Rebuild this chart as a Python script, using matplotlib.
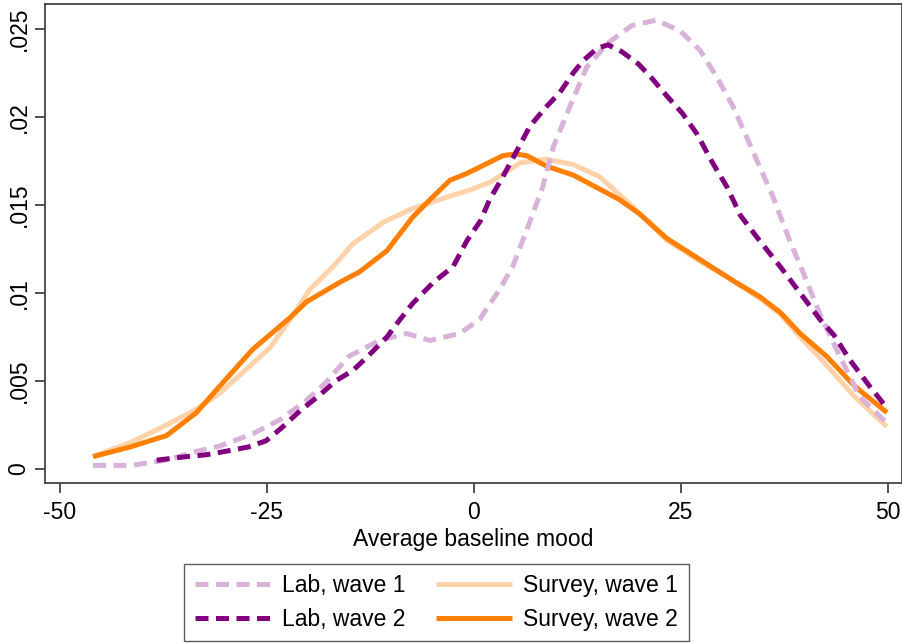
import matplotlib
matplotlib.use("Agg")
import matplotlib.pyplot as plt
from matplotlib.ticker import FuncFormatter

plt.rcParams['font.family'] = ['Liberation Sans', 'DejaVu Sans']
plt.rcParams['axes.unicode_minus'] = False

# Lab, wave 1
lab1_x = [-46.0, -41.5, -37.1, -33.5, -30.7, -26.7, -23.4, -20.2, -17.9, -15.1,
          -11.4, -8.1, -5.3, -1.7, 0.7, 3.1, 4.7, 6.4, 8.3, 9.6,
          11.6, 13.6, 16.2, 19.1, 22.0, 24.9, 27.3, 29.3, 31.3, 32.9,
          34.5, 36.1, 38.2, 39.4, 41.8, 44.2, 46.6, 49.9]
lab1_y = [0.0002, 0.0002, 0.0005, 0.0010, 0.0013, 0.0020, 0.0028, 0.0039, 0.0049, 0.0064,
          0.0073, 0.0077, 0.0073, 0.0077, 0.0085, 0.0102, 0.0115, 0.0136, 0.0160, 0.0183,
          0.0206, 0.0228, 0.0242, 0.0252, 0.0255, 0.0249, 0.0238, 0.0223, 0.0206, 0.0189,
          0.0172, 0.0155, 0.0129, 0.0116, 0.0088, 0.0064, 0.0041, 0.0026]

# Lab, wave 2
lab2_x = [-38.3, -34.7, -32.4, -30.0, -27.2, -25.1, -23.3, -21.0, -18.6, -16.7,
          -14.6, -12.8, -10.5, -8.9, -7.4, -4.9, -2.5, -0.8, 0.8, 1.9,
          3.5, 5.1, 6.8, 8.8, 10.4, 12.0, 13.2, 14.9, 16.2, 17.9,
          19.9, 21.5, 23.3, 25.2, 27.0, 28.7, 30.6, 32.2, 34.3, 37.0,
          39.4, 41.8, 43.5, 45.4, 47.8, 50.0]
lab2_y = [0.0005, 0.0007, 0.0008, 0.0010, 0.00125, 0.0016, 0.0023, 0.0033, 0.0042, 0.0050,
          0.0056, 0.0064, 0.0075, 0.0085, 0.0094, 0.0106, 0.0115, 0.0130, 0.0141, 0.0153,
          0.0166, 0.0180, 0.0195, 0.0206, 0.0214, 0.0225, 0.0232, 0.0239, 0.0241, 0.0237,
          0.0230, 0.0222, 0.0212, 0.0202, 0.0190, 0.0175, 0.0160, 0.0144, 0.0131, 0.0115,
          0.0100, 0.0085, 0.0076, 0.0062, 0.0047, 0.0034]

# Survey, wave 1
sur1_x = [-46.0, -41.5, -37.1, -33.5, -30.7, -26.7, -24.6, -22.2, -19.8, -17.0,
          -14.6, -11.0, -7.4, -2.9, -0.8, 2.0, 5.6, 8.8, 12.0, 15.2,
          19.2, 23.3, 27.3, 31.3, 34.5, 37.0, 39.4, 42.6, 46.0, 49.9]
sur1_y = [0.0007, 0.0015, 0.0025, 0.0034, 0.0043, 0.0060, 0.0069, 0.0085, 0.0102, 0.0115,
          0.0128, 0.0140, 0.0148, 0.0155, 0.0158, 0.0163, 0.0174, 0.0176, 0.0173, 0.0166,
          0.0149, 0.0130, 0.0118, 0.0107, 0.0097, 0.0088, 0.0075, 0.0059, 0.0041, 0.0024]

# Survey, wave 2
sur2_x = [-46.0, -41.5, -37.1, -33.5, -30.7, -26.7, -22.2, -20.2, -16.2, -13.8,
          -10.5, -7.4, -5.3, -2.9, -0.8, 3.5, 5.0, 6.4, 8.8, 12.0,
          15.2, 17.6, 20.0, 23.3, 27.3, 31.3, 34.5, 37.0, 39.4, 42.6,
          46.0, 49.9]
sur2_y = [0.0007, 0.00125, 0.0019, 0.0032, 0.0047, 0.0068, 0.0086, 0.0095, 0.0106, 0.0112,
          0.0124, 0.0143, 0.0153, 0.0164, 0.0168, 0.0178, 0.0179, 0.0178, 0.0172, 0.0167,
          0.0159, 0.0153, 0.0145, 0.0131, 0.0119, 0.0107, 0.0098, 0.0089, 0.0077, 0.0064,
          0.0047, 0.0032]

x_ticks = [-50, -25, 0, 25, 50]
y_ticks = [0, 0.005, 0.01, 0.015, 0.02, 0.025]

fig = plt.figure(figsize=(9.03, 6.43), dpi=100)
ax = fig.add_axes([0.0498, 0.2488, 0.949, 0.745])

lw = 3.6
dash = (2.6, 1.5)
ax.plot(sur1_x, sur1_y, color='#ffd2aa', lw=lw, label='Survey, wave 1', solid_capstyle='butt')
ax.plot(sur2_x, sur2_y, color='#ff7f00', lw=lw, label='Survey, wave 2', solid_capstyle='butt')
ax.plot(lab1_x, lab1_y, color='#d8b2d8', lw=lw, dashes=dash, label='Lab, wave 1')
ax.plot(lab2_x, lab2_y, color='#800080', lw=lw, dashes=dash, label='Lab, wave 2')

ax.set_xlim(-51.8, 51.7)
ax.set_ylim(-0.0008, 0.02642)
ax.set_xticks(x_ticks)
ax.set_yticks(y_ticks)
ax.yaxis.set_major_formatter(FuncFormatter(lambda v, p: '0' if v == 0 else ('%g' % v).lstrip('0')))
ax.tick_params(direction='out', length=7, width=1.2, labelsize=16.5, color='#333333')
ax.tick_params(axis='x', pad=6)
for lab in ax.get_yticklabels():
    lab.set_rotation(90)
    lab.set_va('center')
for s in ax.spines.values():
    s.set_color('#444444')
    s.set_linewidth(1.3)

ax.set_xlabel('Average baseline mood', fontsize=16.5, labelpad=3)

h, l = ax.get_legend_handles_labels()
order = [2, 3, 0, 1]
fig.legend([h[i] for i in order], [l[i] for i in order], ncol=2, loc='center',
           bbox_to_anchor=(0.4834, 0.063), fontsize=16.5, frameon=True, fancybox=False,
           edgecolor='#333333', handlelength=3.3, handletextpad=0.5, columnspacing=1.35,
           borderpad=0.45, labelspacing=0.45, borderaxespad=0.3)

fig.savefig('out.png', dpi=100)
